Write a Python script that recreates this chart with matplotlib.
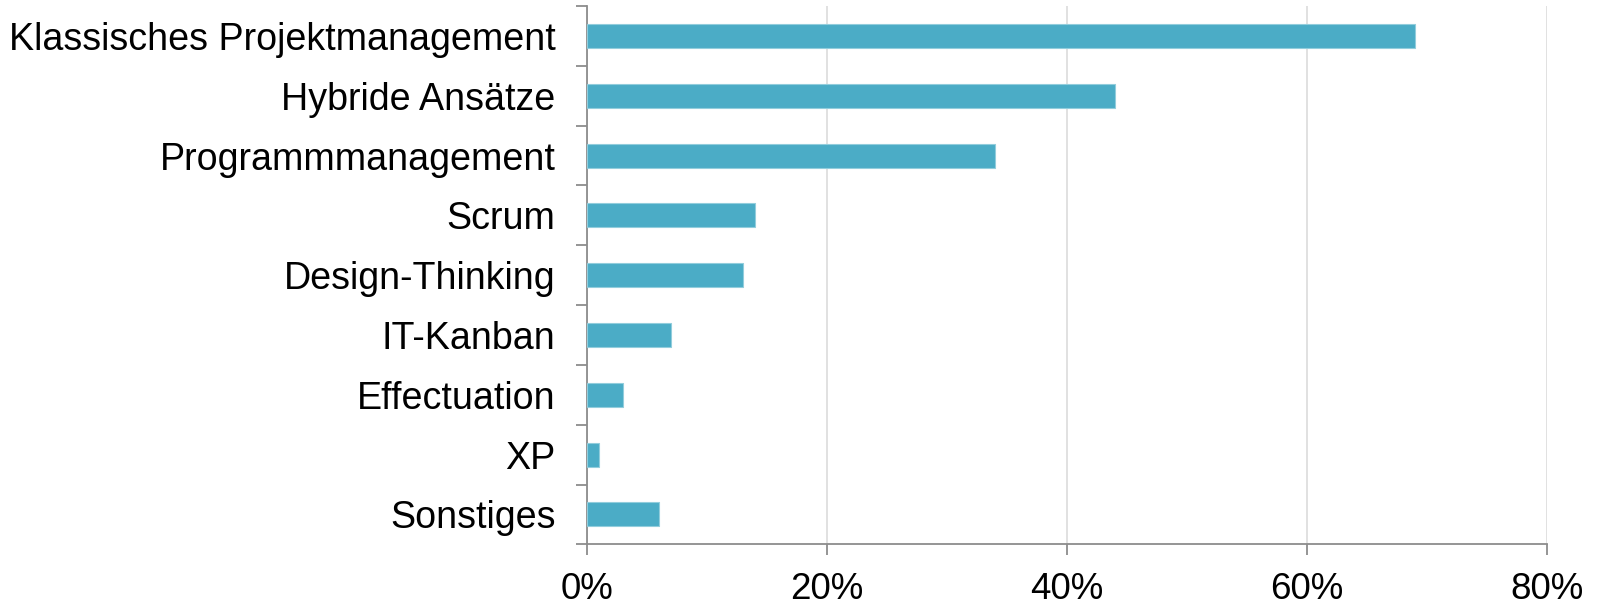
import matplotlib
matplotlib.use("Agg")
import matplotlib.pyplot as plt
from matplotlib.ticker import FixedLocator, FuncFormatter

categories = ["Klassisches Projektmanagement", "Hybride Ansätze", "Programmmanagement",
              "Scrum", "Design-Thinking", "IT-Kanban", "Effectuation", "XP", "Sonstiges"]
values = [69, 44, 34, 14, 13, 7, 3, 1, 6]
x_ticks = [0, 20, 40, 60, 80]

plt.rcParams['font.family'] = ['Liberation Sans', 'DejaVu Sans']

fig = plt.figure(figsize=(16, 6.06), dpi=100)
ax = fig.add_axes([0.3667, 0.1018, 0.6, 0.8882])

ypos = list(range(len(categories)))
ax.barh(ypos, values, height=0.4, color='#4BACC6', edgecolor='#92CDDC', linewidth=0.8, zorder=3)

ax.set_xlim(0, 80)
ax.set_ylim(len(categories) - 0.5, -0.5)
ax.set_xticks(x_ticks)
ax.xaxis.set_major_formatter(FuncFormatter(lambda v, p: f"{int(v)}%"))
ax.set_yticks(ypos)
ax.set_yticklabels(categories)
ax.yaxis.set_minor_locator(FixedLocator([i - 0.5 for i in range(len(categories) + 1)]))

spine_c = '#8C8C8C'
for s in ['top', 'right']:
    ax.spines[s].set_visible(False)
for s in ['left', 'bottom']:
    ax.spines[s].set_color(spine_c)
    ax.spines[s].set_linewidth(1.3)

ax.tick_params(axis='y', which='major', length=0, pad=22.5, labelsize=27.1, colors='black')
ax.tick_params(axis='y', which='minor', length=8, width=1.3, color=spine_c)
ax.tick_params(axis='x', which='major', length=8, width=1.3, color=spine_c, pad=12,
               labelsize=26.5, labelcolor='black')

ax.grid(axis='x', color='#DEDEDE', linewidth=1.3, zorder=0)
ax.set_axisbelow(True)

fig.savefig('out.png', dpi=100, facecolor='white')
